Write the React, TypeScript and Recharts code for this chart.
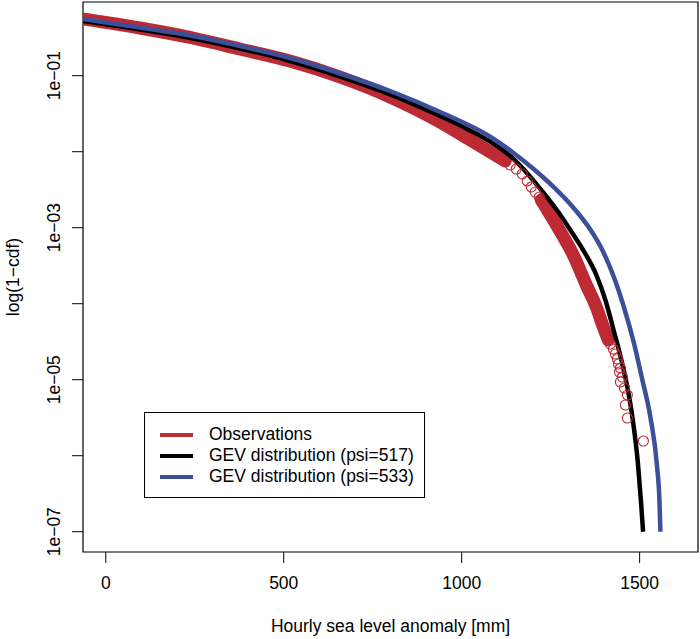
import React from 'react';
import { ComposedChart, Line, Scatter, XAxis, YAxis, ReferenceArea, Legend } from 'recharts';

// Observations: dense upper band
const obs1X = [-64.7, 95.6, 244.7, 376.9, 517.6, 658.2, 798.9, 939.5, 1023.9, 1080.2, 1122.3];
const obs1Y = [0.5572, 0.4242, 0.3133, 0.2245, 0.1561, 0.09613, 0.05245, 0.02459, 0.01425, 9.911e-3, 7.545e-3];
// Observations: dense lower band
const obs2X = [1223.6, 1271.4, 1313.6, 1350.2, 1378.3, 1398.0, 1412.1];
const obs2Y = [2.314e-3, 9.911e-4, 4.372e-4, 1.762e-4, 9.05e-5, 4.935e-5, 3.33e-5];
// Observations: individual circles (sparse part and tail)
const obsPtX = [1136.4, 1153.3, 1170.2, 1184.2, 1195.5, 1206.7, 1218.0,
  1417.7, 1426.2, 1431.8, 1437.4, 1440.3, 1445.9, 1443.1, 1451.5, 1445.9, 1457.2, 1465.6, 1460.0, 1465.6, 1510.6];
const obsPtY = [6.68e-3, 5.92e-3, 5.09e-3, 4.12e-3, 3.43e-3, 2.95e-3, 2.53e-3,
  2.95e-5, 2.53e-5, 2.18e-5, 1.873e-5, 1.609e-5, 1.425e-5, 1.262e-5, 1.085e-5, 9.33e-6, 7.78e-6, 6.29e-6, 4.65e-6, 3.13e-6, 1.56e-6];

// GEV (psi=517)
const gev517X = [-64.7, 95.6, 244.7, 376.9, 517.6, 658.2, 798.9, 939.5, 1009.8, 1085.8, 1136.4, 1175.8, 1209.6,
  1239.7, 1271.4, 1305.2, 1344.6, 1378.3, 1403.7, 1429.0, 1448.7, 1465.5, 1479.6, 1495.1, 1503.5, 1509.7];
const gev517Y = [0.5245, 0.4054, 0.3086, 0.2279, 0.1561, 0.09761, 0.0569, 0.02948, 0.0205, 0.01302, 8.777e-3, 5.743e-3, 3.758e-3,
  2.534e-3, 1.609e-3, 9.326e-4, 4.79e-4, 2.386e-4, 1.119e-4, 4.117e-5, 1.816e-5, 8.013e-6, 3.229e-6, 8.013e-7, 2.613e-7, 1e-7];
// GEV (psi=533)
const gev533X = [-64.7, 95.6, 244.7, 376.9, 517.6, 658.2, 798.9, 939.5, 1080.2, 1142.1, 1205.3, 1257.4,
  1319.3, 1358.6, 1395.2, 1430.7, 1453.2, 1485.3, 1507.7, 1530.2, 1549.1, 1555.6, 1558.4];
const gev533Y = [0.5572, 0.4307, 0.333, 0.2459, 0.1709, 0.1069, 0.06291, 0.0333, 0.01575, 9.911e-3, 5.743e-3, 3.463e-3,
  1.709e-3, 9.911e-4, 5.088e-4, 2.05e-4, 9.911e-5, 2.861e-5, 9.911e-6, 3.229e-6, 7.099e-7, 2.613e-7, 1e-7];

const xTicks = [0, 500, 1000, 1500];
const yTicks = [1e-7, 1e-6, 1e-5, 1e-4, 1e-3, 1e-2, 1e-1];
const yTickLabels = ['1e\u221207', '', '1e\u221205', '', '1e\u221203', '', '1e\u221201'];

const legendLabels = ['Observations', 'GEV distribution (psi=517)', 'GEV distribution (psi=533)'];

const RED = '#BE2A33';
const BLACK = '#000000';
const BLUE = '#3C4F9A';
const legendColors = [RED, BLACK, BLUE];

const FONT = '"Liberation Sans", Arial, Helvetica, sans-serif';
const FS = 17.5;

const zip = (xs: number[], ys: number[]) => xs.map((x, i) => ({ x, y: ys[i] }));

const obs1 = zip(obs1X, obs1Y);
const obs2 = zip(obs2X, obs2Y);
const obsPts = zip(obsPtX, obsPtY);
const gev517 = zip(gev517X, gev517Y);
const gev533 = zip(gev533X, gev533Y);

const YTick = (props: any) => {
  const { x, y, index } = props;
  const label = yTickLabels[index];
  if (!label) return null;
  const bx = x - 10;
  return (
    <text x={bx} y={y} transform={`rotate(-90 ${bx} ${y})`} textAnchor="middle"
      fontSize={FS} fontFamily={FONT} fill="#000">{label}</text>
  );
};

const LegendBox = () => (
  <div style={{
    boxSizing: 'border-box', width: 281, height: 86, border: '1px solid #000', background: '#fff',
    paddingTop: 11, fontFamily: FONT, fontSize: FS, color: '#000'
  }}>
    {legendLabels.map((l, i) => (
      <div key={l} style={{ display: 'flex', alignItems: 'center', height: 21, whiteSpace: 'nowrap' }}>
        <div style={{ marginLeft: 15, width: 33, height: 4, background: legendColors[i] }} />
        <span style={{ marginLeft: 16 }}>{l}</span>
      </div>
    ))}
  </div>
);

const CircleShape = (props: any) => {
  const { cx, cy } = props;
  return <circle cx={cx} cy={cy} r={5} fill="none" stroke={RED} strokeWidth={1.1} />;
};

export default function App() {
  return (
    <div style={{ position: 'absolute', left: 0, top: 0, fontFamily: FONT }}>
      <ComposedChart width={700} height={639} margin={{ top: 2, right: 2, bottom: 0, left: 0 }}>
        <XAxis type="number" dataKey="x" domain={[-64, 1664]} ticks={xTicks} allowDataOverflow
          axisLine={false} tickSize={11} tickMargin={14} height={87}
          tickLine={{ stroke: '#000' }}
          tick={{ fontSize: FS, fill: '#000', fontFamily: FONT }}
          label={{ value: 'Hourly sea level anomaly [mm]', position: 'insideBottom', offset: 7, fontSize: FS, fill: '#000', fontFamily: FONT }} />
        <YAxis type="number" dataKey="y" scale="log" domain={[5.41e-8, 0.9326]} ticks={yTicks} allowDataOverflow
          axisLine={false} tickSize={11} width={83} tickLine={{ stroke: '#000' }} tick={<YTick />}
          label={{
            content: () => (
              <text x={19} y={277} transform="rotate(-90 19 277)" textAnchor="middle" fontSize={FS}
                fontFamily={FONT} fill="#000">log(1{'\u2212'}cdf)</text>
            )
          }} />
        <Line data={obs1} dataKey="y" stroke={RED} strokeWidth={13} dot={false} isAnimationActive={false}
          strokeLinecap="round" type="monotone" legendType="none" />
        <Line data={obs2} dataKey="y" stroke={RED} strokeWidth={13} dot={false} isAnimationActive={false}
          strokeLinecap="round" type="monotone" legendType="none" />
        <Scatter data={obsPts} dataKey="y" shape={<CircleShape />} isAnimationActive={false} legendType="none" />
        <Line data={gev517} dataKey="y" stroke={BLACK} strokeWidth={4.5} dot={false} isAnimationActive={false}
          type="monotone" legendType="none" />
        <Line data={gev533} dataKey="y" stroke={BLUE} strokeWidth={4.5} dot={false} isAnimationActive={false}
          type="monotone" legendType="none" />
        <ReferenceArea x1={-64} x2={1664} y1={5.41e-8} y2={0.9326} fill="none" stroke="#000" strokeWidth={1.2}
          ifOverflow="visible" />
        <Legend content={<LegendBox />} layout="horizontal" verticalAlign="middle" align="center"
          wrapperStyle={{ position: 'absolute', left: 144, top: 412, width: 281, height: 86 }} />
      </ComposedChart>
    </div>
  );
}
